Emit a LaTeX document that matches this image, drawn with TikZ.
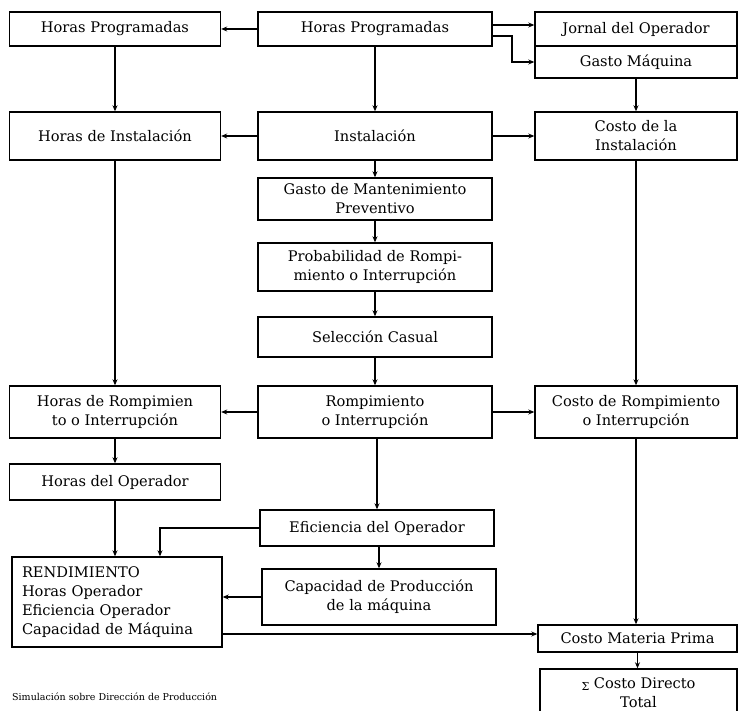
\documentclass[tikz,border=0pt]{standalone}
\usepackage{fontspec}
\setmainfont{DejaVu Serif}
\usetikzlibrary{arrows.meta,calc}
\begin{document}
\begin{tikzpicture}[x=1pt,y=-1pt,
  bx/.style={draw, line width=1.4pt, inner sep=0pt, align=center, font=\fontsize{14.6}{19}\selectfont},
  bw/.style={minimum width=#1pt},
  bh/.style={minimum height=#1pt},
  ar/.style={line width=1.5pt, -{Stealth[length=6pt,width=5pt]}}]
\useasboundingbox (0,0) rectangle (740,711);
% left column
\node[bx, bw=211, bh=34] (hp1) at (115,29) {Horas Programadas};
\node[bx, bw=211, bh=48] (hi) at (115,136) {Horas de Instalación};
\node[bx, bw=211, bh=52] (hr) at (115,412) {Horas de Rompimien\\to o Interrupción};
\node[bx, bw=211, bh=36] (ho) at (115,482) {Horas del Operador};
\node[bx, bw=210, bh=90, text width=190pt, align=left] (ren) at (117,602) {RENDIMIENTO\\Horas Operador\\Eficiencia Operador\\Capacidad de Máquina};
% middle column
\node[bx, bw=234, bh=34] (hp2) at (375,29) {Horas Programadas};
\node[bx, bw=234, bh=48] (ins) at (375,136) {Instalación};
\node[bx, bw=234, bh=42] (gm) at (375,199) {Gasto de Mantenimiento\\Preventivo};
\node[bx, bw=234, bh=48] (pr) at (375,267) {Probabilidad de Rompi-\\miento o Interrupción};
\node[bx, bw=234, bh=40] (sel) at (375,337) {Selección Casual};
\node[bx, bw=234, bh=52] (rom) at (375,412) {Rompimiento\\o Interrupción};
\node[bx, bw=234, bh=36] (ef) at (377,528) {Eficiencia del Operador};
\node[bx, bw=234, bh=56] (cap) at (379,597) {Capacidad de Producción\\de la máquina};
% right column
\node[bx, bw=202, bh=34] (jor) at (636,29) {Jornal del Operador};
\node[bx, bw=202, bh=32] (gas) at (636,62) {Gasto Máquina};
\node[bx, bw=202, bh=48] (ci) at (636,136) {Costo de la\\Instalación};
\node[bx, bw=202, bh=52] (cr) at (636,412) {Costo de Rompimiento\\o Interrupción};
\node[bx, bw=199, bh=27] (cmp) at (637.5,638.5) {Costo Materia Prima};
\node[bx, bw=197, bh=47] (sig) at (638.5,692.5) {{\fontsize{11}{11}\selectfont\raisebox{-2pt}{Σ}} Costo Directo\\Total};
% caption
\node[anchor=west, inner sep=0pt, font=\fontsize{9.5}{11}\selectfont] (capt) at (12,697) {Simulación sobre Dirección de Producción};
% connectors
\draw[ar] (hp2) -- (hp1);
\draw[ar] (hp2.east |- 0,25) -- (jor.west |- 0,25);
\draw[ar] (hp2.east |- 0,36) -- (512,36) |- (gas.west);
\draw[ar] (hp1) -- (hi);
\draw[ar] (hp2) -- (ins);
\draw[ar] (gas) -- (ci);
\draw[ar] (ins) -- (hi);
\draw[ar] (ins) -- (ci);
\draw[ar] (ins) -- (gm);
\draw[ar] (gm) -- (pr);
\draw[ar] (pr) -- (sel);
\draw[ar] (sel) -- (rom);
\draw[ar] (hi) -- (hr);
\draw[ar] (ci) -- (cr);
\draw[ar] (rom) -- (hr);
\draw[ar] (rom) -- (cr);
\draw[ar] (hr) -- (ho);
\draw[ar] (ho.south) -- (ho.south |- ren.north);
\draw[ar] (rom.south -| ef.north) -- (ef.north);
\draw[ar] (ef.west) -| ([xshift=43pt]ren.north);
\draw[ar] (ef.south -| cap.north) -- (cap.north);
\draw[ar] (cap.west) -- (cap.west -| ren.east);
\draw[ar] (ren.east |- 0,634) -- (cmp.west |- 0,634);
\draw[ar] (cr.south) -- (cr.south |- cmp.north);
\draw[ar] (cmp.south) -- (cmp.south |- sig.north);
\end{tikzpicture}
\end{document}
